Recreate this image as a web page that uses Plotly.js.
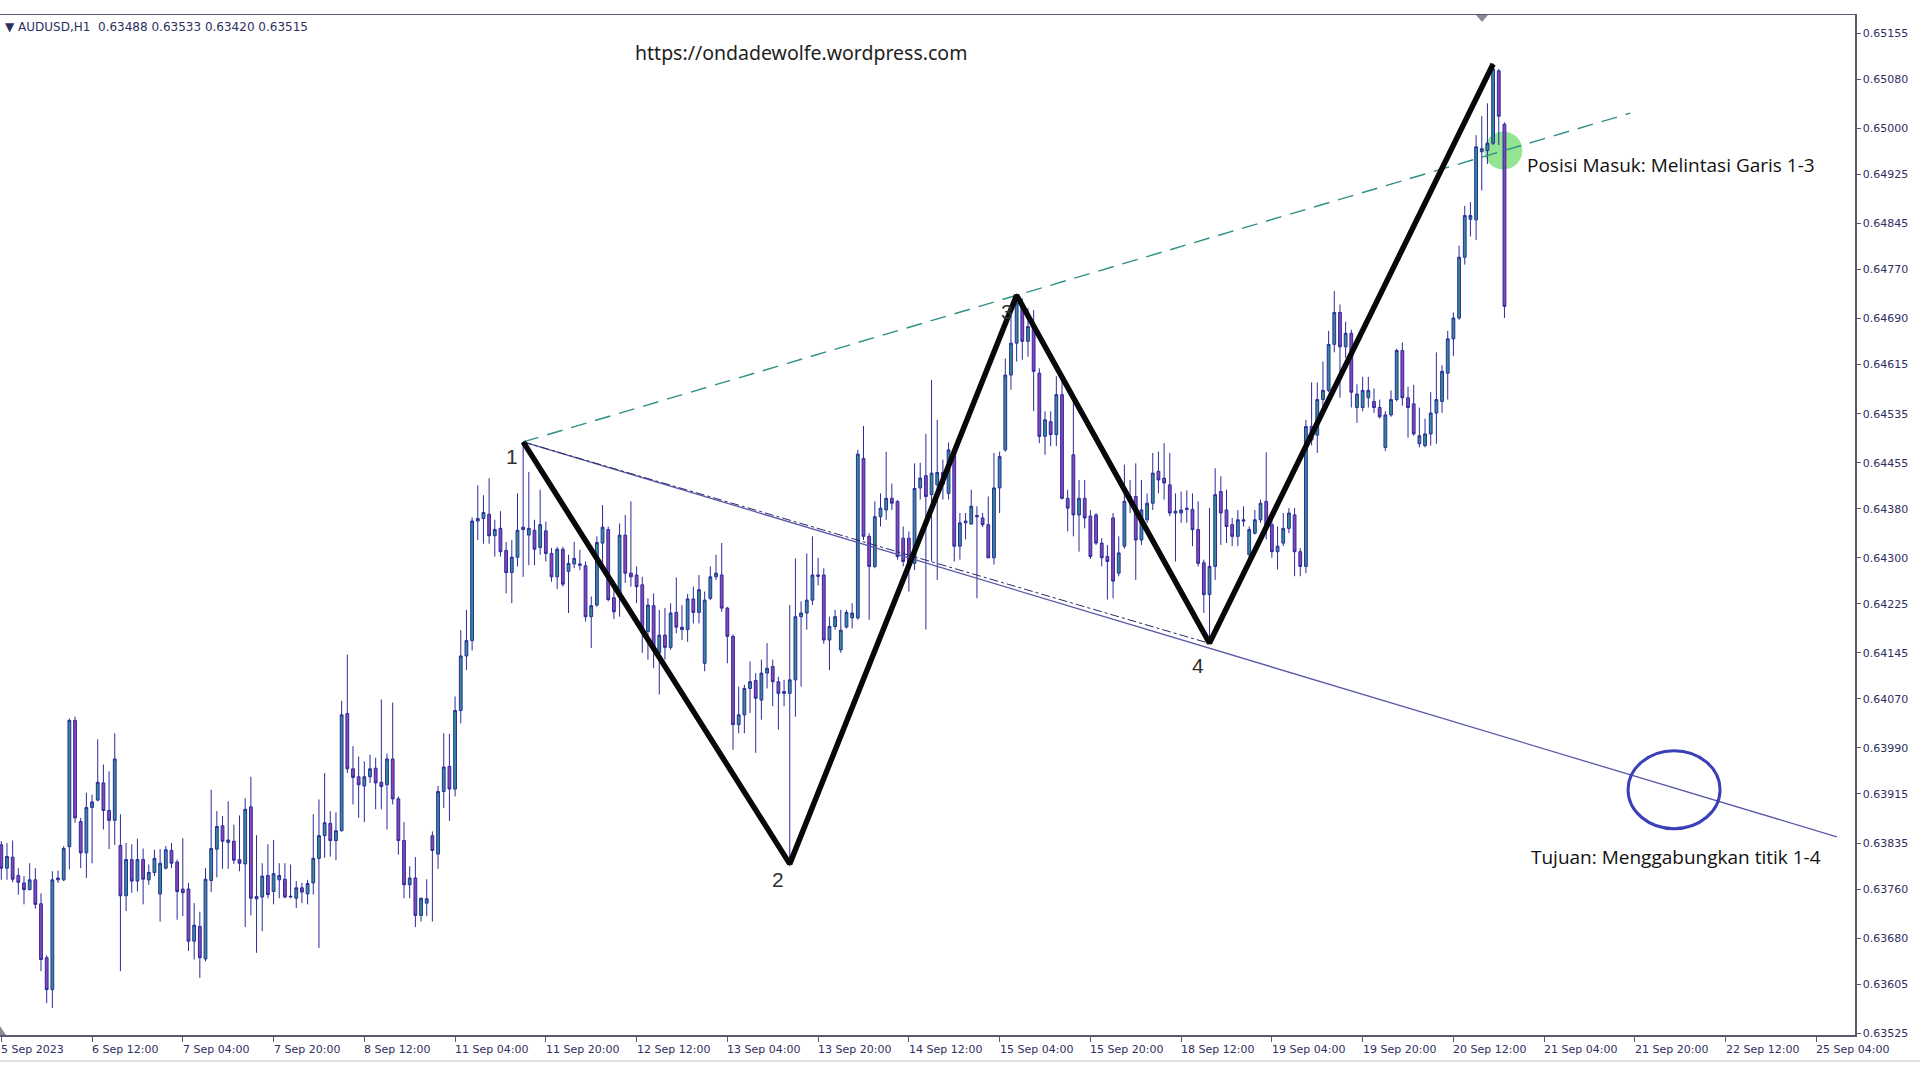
<!DOCTYPE html>
<html>
<head>
<meta charset="utf-8">
<script src="https://cdn.plot.ly/plotly-3.0.1.min.js"></script>
<style>
  html, body { margin: 0; padding: 0; background: #ffffff; }
  #chart { width: 1920px; height: 1080px; }
</style>
</head>
<body>
<div id="chart"></div>
<script>
// ---------------- DATA (AUDUSD, H1) ----------------
const openPrices = [
0.63832,0.63794,0.63812,0.63782,0.63770,0.63759,0.63775,0.63736,0.63648,0.63596,
0.63775,0.63775,0.63829,0.64035,0.63870,0.63819,0.63893,0.63905,0.63933,0.63888,
0.63872,0.63831,0.63749,0.63808,0.63773,0.63808,0.63775,0.63787,0.63752,0.63794,
0.63823,0.63804,0.63760,0.63760,0.63675,0.63699,0.63646,0.63774,0.63825,0.63863,
0.63836,0.63838,0.63808,0.63801,0.63894,0.63748,0.63747,0.63782,0.63756,0.63775,
0.63776,0.63747,0.63745,0.63762,0.63752,0.63770,0.63810,0.63847,0.63867,0.63839,
0.63855,0.64046,0.63956,0.63943,0.63928,0.63943,0.63957,0.63934,0.63930,0.63972,
0.63907,0.63839,0.63767,0.63778,0.63717,0.63737,0.63847,0.63817,0.63919,0.63960,
0.63923,0.64051,0.64140,0.64165,0.64360,0.64364,0.64371,0.64336,0.64348,0.64312,
0.64276,0.64301,0.64346,0.64337,0.64345,0.64317,0.64344,0.64307,0.64269,0.64314,
0.64278,0.64290,0.64290,0.64287,0.64204,0.64223,0.64324,0.64346,0.64235,0.64237,
0.64337,0.64275,0.64272,0.64256,0.64180,0.64222,0.64145,0.64174,0.64154,0.64211,
0.64187,0.64183,0.64233,0.64211,0.64128,0.64234,0.64269,0.64272,0.64218,0.64172,
0.64028,0.64044,0.64087,0.64100,0.64068,0.64112,0.64123,0.64098,0.64079,0.64079,
0.64101,0.64204,0.64210,0.64231,0.64272,0.64272,0.64166,0.64188,0.64150,0.64187,
0.64202,0.64202,0.64462,0.64335,0.64286,0.64367,0.64378,0.64397,0.64392,0.64332,
0.64332,0.64291,0.64414,0.64434,0.64403,0.64419,0.64439,0.64405,0.64471,0.64319,
0.64357,0.64355,0.64369,0.64365,0.64354,0.64300,0.64414,0.64476,0.64598,0.64650,
0.64715,0.64653,0.64677,0.64601,0.64498,0.64522,0.64501,0.64566,0.64397,0.64468,
0.64370,0.64397,0.64368,0.64370,0.64324,0.64302,0.64365,0.64275,0.64319,0.64392,
0.64400,0.64329,0.64362,0.64389,0.64441,0.64430,0.64419,0.64373,0.64373,0.64381,
0.64379,0.64346,0.64292,0.64240,0.64286,0.64408,0.64378,0.64354,0.64335,0.64362,
0.64305,0.64340,0.64362,0.64392,0.64354,0.64310,0.64324,0.64348,0.64370,0.64310,
0.64286,0.64514,0.64500,0.64558,0.64573,0.64648,0.64700,0.64644,0.64666,0.64545,
0.64545,0.64561,0.64555,0.64545,0.64480,0.64533,0.64558,0.64638,0.64561,0.64551,
0.64486,0.64483,0.64502,0.64536,0.64555,0.64601,0.64657,0.64691,0.64790,0.64852,
0.64851,0.64962,0.64964,0.64976,0.65094,0.65007
];
const highPrices = [
0.63838,0.63835,0.63839,0.63794,0.63781,0.63802,0.63794,0.63753,0.63652,0.63789,
0.63790,0.63830,0.64038,0.64041,0.63876,0.63917,0.63914,0.64004,0.63963,0.63952,
0.64014,0.63882,0.63835,0.63833,0.63842,0.63826,0.63800,0.63824,0.63825,0.63830,
0.63835,0.63808,0.63843,0.63770,0.63737,0.63723,0.63794,0.63922,0.63887,0.63879,
0.63903,0.63865,0.63880,0.63908,0.63943,0.63848,0.63802,0.63833,0.63840,0.63802,
0.63802,0.63800,0.63773,0.63770,0.63775,0.63882,0.63906,0.63949,0.63887,0.63885,
0.64067,0.64142,0.63993,0.63976,0.63968,0.63979,0.63974,0.64069,0.63981,0.64064,
0.63911,0.63869,0.63797,0.63812,0.63746,0.63776,0.63854,0.63928,0.64014,0.64013,
0.64074,0.64182,0.64215,0.64366,0.64418,0.64402,0.64430,0.64362,0.64376,0.64326,
0.64329,0.64405,0.64489,0.64440,0.64362,0.64411,0.64359,0.64316,0.64318,0.64318,
0.64305,0.64326,0.64313,0.64294,0.64237,0.64335,0.64386,0.64351,0.64262,0.64356,
0.64370,0.64392,0.64286,0.64269,0.64234,0.64242,0.64215,0.64218,0.64226,0.64268,
0.64223,0.64241,0.64253,0.64272,0.64245,0.64286,0.64305,0.64324,0.64220,0.64175,
0.64090,0.64093,0.64131,0.64112,0.64134,0.64161,0.64134,0.64106,0.64101,0.64223,
0.64299,0.64229,0.64307,0.64335,0.64300,0.64283,0.64204,0.64215,0.64215,0.64215,
0.64226,0.64476,0.64515,0.64340,0.64392,0.64405,0.64473,0.64421,0.64394,0.64351,
0.64343,0.64454,0.64455,0.64502,0.64590,0.64525,0.64460,0.64488,0.64476,0.64373,
0.64373,0.64411,0.64384,0.64373,0.64400,0.64471,0.64473,0.64625,0.64693,0.64731,
0.64723,0.64707,0.64704,0.64609,0.64539,0.64539,0.64596,0.64596,0.64411,0.64568,
0.64427,0.64427,0.64378,0.64373,0.64332,0.64321,0.64373,0.64335,0.64452,0.64427,
0.64454,0.64427,0.64405,0.64471,0.64473,0.64487,0.64471,0.64405,0.64408,0.64410,
0.64405,0.64392,0.64297,0.64381,0.64446,0.64433,0.64411,0.64365,0.64378,0.64384,
0.64351,0.64378,0.64395,0.64472,0.64373,0.64351,0.64373,0.64381,0.64381,0.64316,
0.64525,0.64586,0.64586,0.64620,0.64670,0.64735,0.64713,0.64685,0.64672,0.64583,
0.64595,0.64595,0.64576,0.64558,0.64539,0.64573,0.64641,0.64651,0.64579,0.64582,
0.64545,0.64527,0.64570,0.64635,0.64614,0.64670,0.64700,0.64809,0.64874,0.64880,
0.64989,0.65020,0.65041,0.65106,0.65097,0.65010
];
const lowPrices = [
0.63775,0.63775,0.63771,0.63751,0.63735,0.63758,0.63728,0.63626,0.63574,0.63566,
0.63770,0.63773,0.63792,0.63868,0.63794,0.63778,0.63802,0.63903,0.63857,0.63825,
0.63832,0.63626,0.63724,0.63754,0.63756,0.63735,0.63767,0.63781,0.63707,0.63792,
0.63794,0.63710,0.63716,0.63659,0.63645,0.63615,0.63642,0.63755,0.63779,0.63793,
0.63793,0.63801,0.63789,0.63698,0.63717,0.63656,0.63691,0.63745,0.63735,0.63745,
0.63745,0.63745,0.63729,0.63737,0.63735,0.63751,0.63664,0.63811,0.63813,0.63807,
0.63854,0.63949,0.63898,0.63876,0.63869,0.63933,0.63890,0.63890,0.63857,0.63898,
0.63816,0.63745,0.63745,0.63698,0.63707,0.63716,0.63707,0.63793,0.63892,0.63871,
0.63911,0.64030,0.64117,0.64149,0.64329,0.64323,0.64323,0.64302,0.64302,0.64242,
0.64226,0.64286,0.64269,0.64288,0.64288,0.64305,0.64294,0.64261,0.64249,0.64253,
0.64210,0.64283,0.64280,0.64196,0.64153,0.64220,0.64291,0.64229,0.64200,0.64204,
0.64259,0.64253,0.64226,0.64145,0.64134,0.64120,0.64077,0.64134,0.64150,0.64177,
0.64166,0.64163,0.64193,0.64193,0.64115,0.64231,0.64264,0.64212,0.64128,0.63987,
0.64014,0.64014,0.64047,0.63982,0.64036,0.64087,0.64058,0.64020,0.64058,0.63797,
0.64041,0.64090,0.64183,0.64223,0.64255,0.64160,0.64117,0.64183,0.64145,0.64185,
0.64185,0.64199,0.64329,0.64199,0.64283,0.64351,0.64362,0.64378,0.64297,0.64286,
0.64245,0.64280,0.64395,0.64183,0.64294,0.64264,0.64395,0.64395,0.64294,0.64297,
0.64330,0.64355,0.64234,0.64350,0.64300,0.64289,0.64373,0.64473,0.64574,0.64620,
0.64623,0.64628,0.64539,0.64487,0.64468,0.64482,0.64482,0.64395,0.64343,0.64335,
0.64310,0.64348,0.64298,0.64321,0.64286,0.64232,0.64234,0.64270,0.64315,0.64373,
0.64264,0.64321,0.64357,0.64378,0.64405,0.64395,0.64368,0.64294,0.64357,0.64357,
0.64319,0.64286,0.64210,0.64161,0.64264,0.64321,0.64324,0.64319,0.64319,0.64351,
0.64291,0.64338,0.64357,0.64330,0.64300,0.64281,0.64319,0.64340,0.64270,0.64270,
0.64275,0.64483,0.64471,0.64539,0.64570,0.64635,0.64561,0.64626,0.64545,0.64520,
0.64539,0.64545,0.64536,0.64527,0.64474,0.64530,0.64555,0.64548,0.64496,0.64499,
0.64480,0.64480,0.64483,0.64486,0.64536,0.64558,0.64629,0.64688,0.64778,0.64824,
0.64818,0.64899,0.64942,0.64973,0.64973,0.64691
];
const closePrices = [
0.63794,0.63813,0.63776,0.63771,0.63759,0.63775,0.63735,0.63645,0.63596,0.63775,
0.63778,0.63826,0.64035,0.63876,0.63819,0.63893,0.63902,0.63934,0.63888,0.63872,
0.63972,0.63749,0.63808,0.63773,0.63808,0.63776,0.63787,0.63810,0.63802,0.63824,
0.63802,0.63756,0.63754,0.63675,0.63701,0.63648,0.63776,0.63826,0.63862,0.63838,
0.63840,0.63807,0.63802,0.63890,0.63745,0.63744,0.63781,0.63751,0.63785,0.63782,
0.63747,0.63748,0.63762,0.63755,0.63769,0.63810,0.63847,0.63868,0.63839,0.63855,
0.64044,0.63956,0.63942,0.63930,0.63943,0.63956,0.63933,0.63927,0.63972,0.63907,
0.63839,0.63767,0.63778,0.63717,0.63745,0.63744,0.63823,0.63919,0.63959,0.63923,
0.64051,0.64140,0.64165,0.64360,0.64364,0.64374,0.64336,0.64346,0.64310,0.64276,
0.64301,0.64345,0.64350,0.64348,0.64314,0.64354,0.64307,0.64269,0.64314,0.64257,
0.64291,0.64299,0.64288,0.64204,0.64222,0.64325,0.64350,0.64232,0.64212,0.64337,
0.64275,0.64269,0.64253,0.64178,0.64223,0.64153,0.64174,0.64154,0.64210,0.64187,
0.64183,0.64233,0.64211,0.64248,0.64231,0.64269,0.64275,0.64218,0.64172,0.64028,
0.64044,0.64087,0.64098,0.64071,0.64112,0.64120,0.64098,0.64079,0.64082,0.64101,
0.64204,0.64210,0.64231,0.64272,0.64270,0.64166,0.64188,0.64204,0.64182,0.64211,
0.64210,0.64469,0.64335,0.64286,0.64367,0.64381,0.64397,0.64389,0.64302,0.64294,
0.64283,0.64413,0.64430,0.64400,0.64438,0.64439,0.64420,0.64476,0.64319,0.64357,
0.64360,0.64384,0.64367,0.64354,0.64300,0.64414,0.64465,0.64598,0.64650,0.64715,
0.64653,0.64677,0.64604,0.64498,0.64525,0.64501,0.64566,0.64397,0.64381,0.64370,
0.64397,0.64365,0.64302,0.64324,0.64300,0.64294,0.64262,0.64308,0.64392,0.64400,
0.64329,0.64378,0.64389,0.64438,0.64427,0.64422,0.64373,0.64376,0.64378,0.64379,
0.64346,0.64291,0.64240,0.64286,0.64403,0.64373,0.64351,0.64335,0.64362,0.64360,
0.64346,0.64362,0.64389,0.64351,0.64310,0.64319,0.64348,0.64373,0.64310,0.64286,
0.64514,0.64492,0.64558,0.64573,0.64648,0.64700,0.64644,0.64666,0.64570,0.64567,
0.64573,0.64573,0.64545,0.64530,0.64533,0.64558,0.64638,0.64561,0.64545,0.64502,
0.64499,0.64502,0.64536,0.64558,0.64604,0.64657,0.64691,0.64790,0.64858,0.64858,
0.64970,0.64967,0.64976,0.65097,0.65020,0.64710
];

// x tick labels (every 16 hourly bars)
const xTickBars   = [0,16,32,48,64,80,96,112,128,144,160,176,192,208,224,240,256,272,288,304,320];
const xTickLabels = ["5 Sep 2023","6 Sep 12:00","7 Sep 04:00","7 Sep 20:00","8 Sep 12:00",
  "11 Sep 04:00","11 Sep 20:00","12 Sep 12:00","13 Sep 04:00","13 Sep 20:00","14 Sep 12:00",
  "15 Sep 04:00","15 Sep 20:00","18 Sep 12:00","19 Sep 04:00","19 Sep 20:00","20 Sep 12:00",
  "21 Sep 04:00","21 Sep 20:00","22 Sep 12:00","25 Sep 04:00"];

// y tick labels
const yTickLabels = ["0.65155","0.65080","0.65000","0.64925","0.64845","0.64770","0.64690",
  "0.64615","0.64535","0.64455","0.64380","0.64300","0.64225","0.64145","0.64070","0.63990",
  "0.63915","0.63835","0.63760","0.63680","0.63605","0.63525"];

// Wolfe wave points 1..5
const wavePointBars   = [92, 139, 179, 213, 263];
const wavePointPrices = [0.64489, 0.63801, 0.64728, 0.64161, 0.65105];
const waveLabels      = ["1", "2", "3", "4"];
const waveLabelBars   = [90.0, 136.9, 177.3, 211.0];
const waveLabelPrices = [0.64466, 0.63776, 0.64702, 0.64125];

// Lines 1-3 (entry) and 1-4 (target)
const line13Bars   = [92, 287.15];
const line13Prices = [0.64489, 0.65025];
const line14Bars   = [92, 323.6];
const line14Prices = [0.64489, 0.63845];
const line14DotBars   = [92, 212.8];
const line14DotPrices = [0.64489, 0.64161];

// Highlight markers
const entryMark  = {bar: 264.8, price: 0.64964};
const targetMark = {bar: 294.9, price: 0.63922};

const headerText = "\u25BC AUDUSD,H1\u00A0\u00A00.63488 0.63533 0.63420 0.63515";
const urlText    = "https://ondadewolfe.wordpress.com";
const entryText  = "Posisi Masuk: Melintasi Garis 1-3";
const targetText = "Tujuan: Menggabungkan titik 1-4";

// ---------------- CHART ----------------
const barIndex = openPrices.map((_, i) => i);
const axisCol = "#5a5a6e";
const labelCol = "#2e2e62";

const traces = [
  {
    type: "candlestick",
    x: barIndex, open: openPrices, high: highPrices, low: lowPrices, close: closePrices,
    increasing: {line: {color: "#2b2b9c", width: 1}, fillcolor: "#2e9090"},
    decreasing: {line: {color: "#2b2b9c", width: 1}, fillcolor: "#8b45b5"},
    whiskerwidth: 0,
    hoverinfo: "skip",
    showlegend: false
  },
  {
    type: "scatter", mode: "lines", x: line14Bars, y: line14Prices,
    line: {color: "#5858aa", width: 1.3}, hoverinfo: "skip", showlegend: false
  },
  {
    type: "scatter", mode: "lines", x: line14DotBars, y: line14DotPrices,
    line: {color: "#2a2a66", width: 1, dash: "dashdot"}, hoverinfo: "skip", showlegend: false
  },
  {
    type: "scatter", mode: "lines", x: line13Bars, y: line13Prices,
    line: {color: "#2f8f86", width: 1.4, dash: "16px,9px"}, hoverinfo: "skip", showlegend: false
  },
  {
    type: "scatter", mode: "lines", x: wavePointBars, y: wavePointPrices,
    line: {color: "#080808", width: 5.5}, hoverinfo: "skip", showlegend: false
  }
];

const plotLeft = 0, plotRight = 1855, plotTop = 15, plotBottom = 1035;
const pw = plotRight - plotLeft, ph = plotBottom - plotTop;
const px = (x) => (x - plotLeft) / pw;
const py = (y) => (plotBottom - y) / ph;

const annotations = [];
xTickBars.forEach((b, k) => {
  annotations.push({
    x: b, xref: "x", y: py(1049), yref: "paper", text: xTickLabels[k],
    showarrow: false, xanchor: "left", yanchor: "middle", xshift: -2,
    font: {family: "DejaVu Sans", size: 11, color: labelCol}
  });
});
waveLabels.forEach((t, k) => {
  annotations.push({
    x: waveLabelBars[k], y: waveLabelPrices[k], xref: "x", yref: "y", text: t,
    showarrow: false, font: {family: "Liberation Sans", size: 21, color: "#303030"}
  });
});
annotations.push(
  {x: px(3), y: py(27), xref: "paper", yref: "paper", text: headerText, showarrow: false,
   xanchor: "left", yanchor: "middle", font: {family: "DejaVu Sans", size: 12, color: labelCol}},
  {x: px(801), y: py(53), xref: "paper", yref: "paper", text: urlText, showarrow: false,
   xanchor: "center", yanchor: "middle", font: {family: "Noto Sans", size: 19.5, color: "#1e1e1e"}},
  {x: px(1525), y: py(165), xref: "paper", yref: "paper", text: entryText, showarrow: false,
   xanchor: "left", yanchor: "middle", font: {family: "Open Sans", size: 19, color: "#111111"}},
  {x: px(1529), y: py(857), xref: "paper", yref: "paper", text: targetText, showarrow: false,
   xanchor: "left", yanchor: "middle", font: {family: "Open Sans", size: 19, color: "#111111"}}
);

const shapes = [
  {type: "circle", xref: "x", yref: "y", xsizemode: "pixel", ysizemode: "pixel",
   xanchor: entryMark.bar, yanchor: entryMark.price, x0: -19, x1: 19, y0: -19, y1: 19,
   fillcolor: "#93e493", line: {width: 0}, layer: "below"},
  {type: "circle", xref: "x", yref: "y", xsizemode: "pixel", ysizemode: "pixel",
   xanchor: targetMark.bar, yanchor: targetMark.price, x0: -46, x1: 46, y0: -39, y1: 39,
   line: {color: "#3c40b8", width: 3}, fillcolor: "rgba(0,0,0,0)", layer: "above"},
  {type: "path", xref: "paper", yref: "paper", xsizemode: "pixel", ysizemode: "pixel",
   xanchor: px(1482), yanchor: 1, path: "M -6 0 L 6 0 L 0 -7 Z",
   fillcolor: "#8a8a9c", line: {width: 0}},
  {type: "path", xref: "paper", yref: "paper", xsizemode: "pixel", ysizemode: "pixel",
   xanchor: 0, yanchor: 0, path: "M 0 0 L 0 9 L 6 0 Z",
   fillcolor: "#8a8a9c", line: {width: 0}},
  {type: "line", xref: "paper", yref: "paper", x0: 0, x1: 1920 / pw, y0: py(1061), y1: py(1061),
   line: {color: "#e2e2e2", width: 2}}
];

const layout = {
  width: 1920, height: 1080,
  margin: {l: plotLeft, r: 1920 - plotRight, t: plotTop, b: 1080 - plotBottom, pad: 0},
  paper_bgcolor: "#ffffff", plot_bgcolor: "#ffffff",
  showlegend: false, hovermode: false, dragmode: false,
  boxgap: 0.3,
  xaxis: {
    range: [-0.229, 326.8], rangeslider: {visible: false},
    tickmode: "array", tickvals: xTickBars, ticktext: xTickLabels, showticklabels: false,
    ticks: "outside", ticklen: 5, tickwidth: 1, tickcolor: axisCol,
    showline: true, linecolor: axisCol, linewidth: 1.5, mirror: true,
    showgrid: false, zeroline: false, fixedrange: true
  },
  yaxis: {
    side: "right", range: [0.63522, 0.65185],
    tickmode: "array", tickvals: yTickLabels.map(Number), ticktext: yTickLabels,
    ticks: "outside", ticklen: 4, tickwidth: 1, tickcolor: axisCol,
    showline: true, linecolor: axisCol, linewidth: 1.5,
    showgrid: false, zeroline: false, fixedrange: true,
    tickfont: {family: "DejaVu Sans", size: 11, color: labelCol}
  },
  annotations: annotations,
  shapes: shapes
};

Plotly.newPlot("chart", traces, layout, {staticPlot: true, displayModeBar: false});
</script>
</body>
</html>
